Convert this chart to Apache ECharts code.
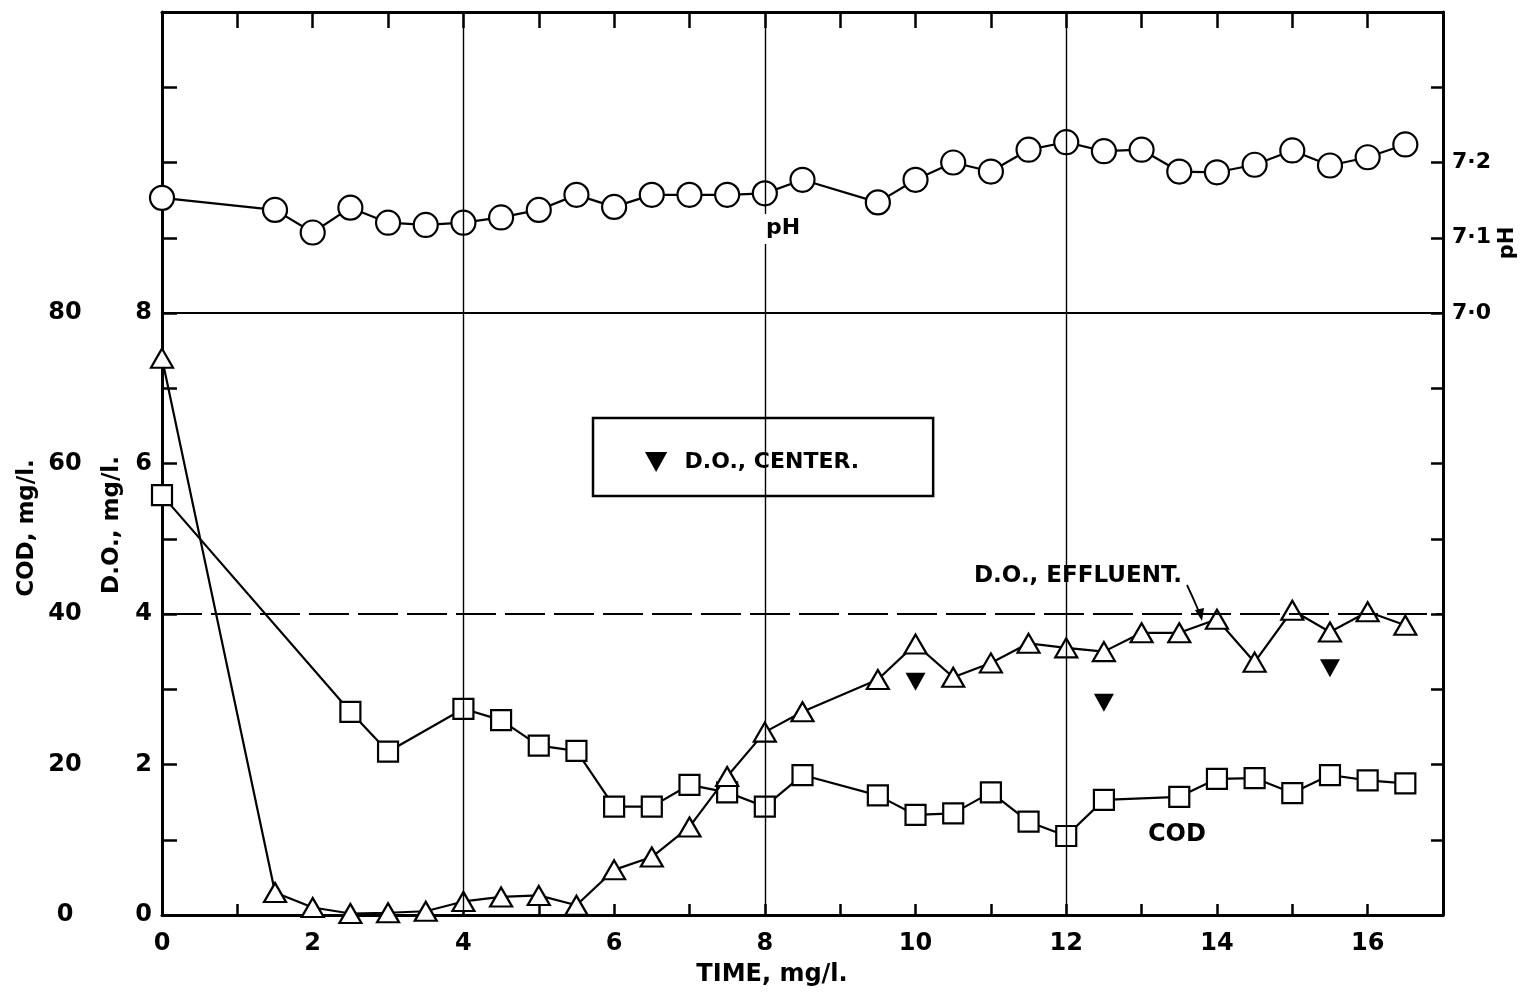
<!DOCTYPE html>
<html><head><meta charset="utf-8">
<script src="https://cdn.jsdelivr.net/npm/echarts@6/dist/echarts.min.js"></script>
<style>html,body{margin:0;padding:0;background:#fff}#c{width:1526px;height:994px}</style>
</head><body><div id="c"></div>
<script>
// ---- data ----
const timePH = [0,1.5,2,2.5,3,3.5,4,4.5,5,5.5,6,6.5,7,7.5,8,8.5,9.5,10,10.5,11,11.5,12,12.5,13,13.5,14,14.5,15,15.5,16,16.5];
const pH = [7.153,7.137,7.107,7.140,7.120,7.117,7.120,7.127,7.137,7.157,7.141,7.157,7.157,7.157,7.159,7.177,7.147,7.177,7.200,7.188,7.217,7.227,7.215,7.217,7.188,7.187,7.197,7.216,7.196,7.207,7.224];
const timeDOeff = [0,1.5,2,2.5,3,3.5,4,4.5,5,5.5,6,6.5,7,7.5,8,8.5,9.5,10,10.5,11,11.5,12,12.5,13,13.5,14,14.5,15,15.5,16,16.5];
const doEff = [7.4,0.3,0.1,0.02,0.03,0.05,0.18,0.24,0.26,0.13,0.6,0.77,1.17,1.84,2.43,2.7,3.13,3.6,3.16,3.35,3.61,3.55,3.5,3.75,3.75,3.93,3.36,4.05,3.76,4.03,3.85];
const timeCOD = [0,2.5,3,4,4.5,5,5.5,6,6.5,7,7.5,8,8.5,9.5,10,10.5,11,11.5,12,12.5,13.5,14,14.5,15,15.5,16,16.5];
const cod = [55.8,27.0,21.7,27.4,25.9,22.5,21.8,14.4,14.4,17.3,16.3,14.4,18.6,15.9,13.3,13.5,16.3,12.4,10.5,15.3,15.7,18.1,18.2,16.2,18.6,17.9,17.5];
const timeDOctr = [10,12.5,15.5];
const doCtr = [3.1,2.82,3.28];
const gridTimes = [4,8,12];
const gridDOsolid = [8];
const gridDOdashed = [4];
const timeTickLabels = [0,2,4,6,8,10,12,14,16];
const doTickLabels = [0,2,4,6,8];
const codTickLabels = [0,20,40,60,80];
const pHTickLabels = [7.0,7.1,7.2];

const FONT = 'DejaVu Sans';
const zip = (a,b) => a.map((v,i)=>[v,b[i]]);
const inList = (list,v) => list.some(x => Math.abs(x-v) < 1e-6);

const chart = echarts.init(document.getElementById('c'), null, {renderer:'canvas'});
const lbl = {fontFamily:FONT, fontWeight:'bold', fontSize:24, color:'#000'};
const hollow = {color:'#fff', borderColor:'#000', borderWidth:2.2, opacity:1};

chart.setOption({
  backgroundColor:'#fff',
  animation:false,
  grid:{left:162, right:83, top:12, bottom:79, containLabel:false},
  legend:{
    data:[{name:'D.O., CENTER.', icon:'path://M0,0 L20,0 L10,18 Z'}],
    left:593, top:418, orient:'horizontal',
    padding:[33,74,23,52],
    borderColor:'#000', borderWidth:2.5, backgroundColor:'#fff',
    itemWidth:23, itemHeight:20,
    selectedMode:false,
    itemStyle:{color:'#000', opacity:1},
    textStyle:{fontFamily:FONT, fontWeight:'bold', fontSize:22, color:'#000', padding:[6,0,0,12]}
  },
  xAxis:[
    {type:'value', min:0, max:17, interval:1, position:'bottom',
     axisLine:{onZero:false, lineStyle:{color:'#000', width:3}},
     axisTick:{inside:true, length:11, lineStyle:{color:'#000', width:2.5}},
     axisLabel:{...lbl, margin:17, formatter:v => inList(timeTickLabels,v) ? String(v) : ''},
     splitLine:{show:false}},
    {type:'value', min:0, max:17, interval:1, position:'top',
     axisLine:{onZero:false, lineStyle:{color:'#000', width:3}},
     axisTick:{inside:true, length:16, lineStyle:{color:'#000', width:2.5}},
     axisLabel:{show:false}, splitLine:{show:false}}
  ],
  yAxis:[
    {type:'value', min:0, max:12, interval:1, position:'left',
     axisLine:{show:true, onZero:false, lineStyle:{color:'#000', width:3}},
     axisTick:{show:true, inside:true, length:15, lineStyle:{color:'#000', width:2.5}},
     axisLabel:{...lbl, margin:10, formatter:v => inList(doTickLabels,v) ? String(v) : ''},
     splitLine:{show:false}},
    {type:'value', min:0, max:120, interval:10, position:'left',
     axisLine:{show:false, onZero:false}, axisTick:{show:false},
     axisLabel:{...lbl, margin:97, align:'center', formatter:v => inList(codTickLabels,v) ? String(v) : ''},
     splitLine:{show:false}},
    {type:'value', min:6.2, max:7.4, interval:0.1, position:'right',
     axisLine:{show:true, onZero:false, lineStyle:{color:'#000', width:3}},
     axisTick:{show:true, inside:true, length:12, lineStyle:{color:'#000', width:2.5}},
     axisLabel:{...lbl, fontSize:22, margin:9,
       formatter:v => inList(pHTickLabels, Math.round(v*10)/10) ? (Math.round(v*10)/10).toFixed(1).replace('.', '\u00B7') : ''},
     splitLine:{show:false}}
  ],
  series:[
    {name:'grid', type:'line', data:[], xAxisIndex:0, yAxisIndex:0, z:1, silent:true,
     markLine:{silent:true, symbol:'none', label:{show:false}, animation:false,
       data:[
         ...gridTimes.map(t => ({xAxis:t, lineStyle:{color:'#000', width:1.4, type:'solid'}})),
         ...gridDOsolid.map(d => ({yAxis:d, lineStyle:{color:'#000', width:1.8, type:'solid'}})),
         ...gridDOdashed.map(d => ({yAxis:d, lineStyle:{color:'#000', width:1.8, type:[40,9]}}))
       ]}},
    {name:'pH', type:'line', xAxisIndex:0, yAxisIndex:2, data:zip(timePH,pH), z:3,
     symbol:'circle', symbolSize:24, lineStyle:{color:'#000', width:2.2}, itemStyle:hollow, clip:false},
    {name:'COD', type:'line', xAxisIndex:0, yAxisIndex:1, data:zip(timeCOD,cod), z:3,
     symbol:'rect', symbolSize:20, lineStyle:{color:'#000', width:2.2}, itemStyle:hollow, clip:false},
    {name:'D.O., EFFLUENT.', type:'line', xAxisIndex:0, yAxisIndex:0, data:zip(timeDOeff,doEff), z:4,
     symbol:'triangle', symbolSize:[22,19], lineStyle:{color:'#000', width:2.2}, itemStyle:hollow, clip:false},
    {name:'D.O., CENTER.', type:'scatter', xAxisIndex:0, yAxisIndex:0, data:zip(timeDOctr,doCtr), z:4,
     symbol:'triangle', symbolRotate:180, symbolSize:[20,18], itemStyle:{color:'#000', opacity:1}}
  ],
  graphic:[
    {type:'text', x:772, y:975, z:10, style:{text:'TIME, mg/l.', fontFamily:FONT, fontWeight:'bold', fontSize:24, fill:'#000', align:'center', verticalAlign:'middle'}},
    {type:'text', left:1148, top:823, z:10, style:{text:'COD', fontFamily:FONT, fontWeight:'bold', fontSize:24, fill:'#000'}},
    {type:'text', left:764, top:214, z:10, style:{text:'pH', fontFamily:FONT, fontWeight:'bold', fontSize:22, fill:'#000', backgroundColor:'#fff', padding:[3,2,5,2]}},
    {type:'text', left:974, top:565, z:10, style:{text:'D.O., EFFLUENT.', fontFamily:FONT, fontWeight:'bold', fontSize:23, fill:'#000'}},
    {type:'polyline', z:10, shape:{points:[[1187,585],[1193,598],[1200,614]]}, style:{stroke:'#000', lineWidth:1.8, fill:null}},
    {type:'polygon', z:10, shape:{points:[[1195,610],[1204,608],[1202,621]]}, style:{fill:'#000'}},
    {type:'text', x:27, y:528, rotation:Math.PI/2, z:10,
     style:{text:'COD, mg/l.', fontFamily:FONT, fontWeight:'bold', fontSize:23, fill:'#000', align:'center', verticalAlign:'middle'}},
    {type:'text', x:112, y:525, rotation:Math.PI/2, z:10,
     style:{text:'D.O., mg/l.', fontFamily:FONT, fontWeight:'bold', fontSize:23, fill:'#000', align:'center', verticalAlign:'middle'}},
    {type:'text', x:1508, y:243, rotation:Math.PI/2, z:10,
     style:{text:'pH', fontFamily:FONT, fontWeight:'bold', fontSize:21, fill:'#000', align:'center', verticalAlign:'middle'}}
  ]
});
</script></body></html>
